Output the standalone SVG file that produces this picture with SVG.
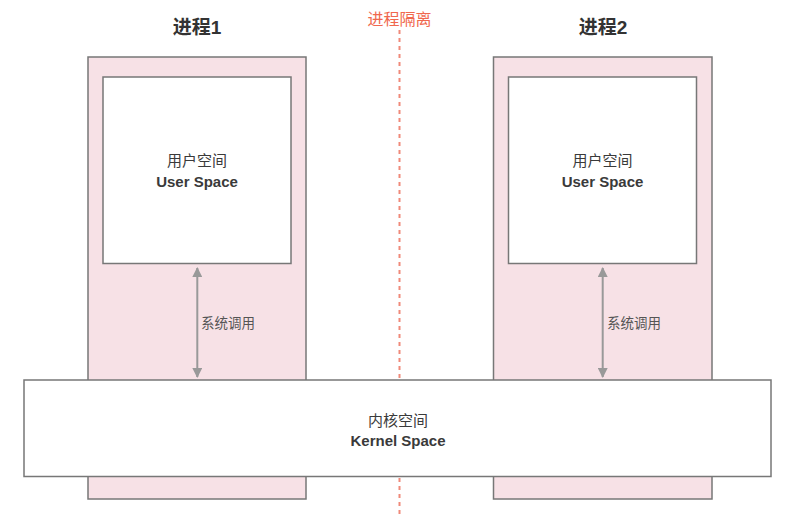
<svg xmlns="http://www.w3.org/2000/svg" width="800" height="521" viewBox="0 0 800 521">
<style>
  .outer { fill: #F7E1E6; stroke: #777777; stroke-width: 1.5; }
  .box { fill: #FFFFFF; stroke: #777777; stroke-width: 1.5; }
  .t { font-family: "Liberation Sans", "Noto Sans CJK SC", sans-serif; fill: #3a3a3a; text-anchor: middle; font-size: 15px; }
  .b { font-weight: bold; }
  .title { font-family: "Liberation Sans", "Noto Sans CJK SC", sans-serif; fill: #333333; text-anchor: middle; font-size: 19px; font-weight: bold; }
  .iso { font-family: "Liberation Sans", "Noto Sans CJK SC", sans-serif; fill: #F0684E; text-anchor: middle; font-size: 16px; }
  .arrow { stroke: #999999; stroke-width: 2; fill: none; marker-start: url(#ah); marker-end: url(#ah); }
  .lbl { font-family: "Liberation Sans", "Noto Sans CJK SC", sans-serif; fill: #555555; font-size: 13.5px; }
</style>
<defs>
  <marker id="ah" viewBox="0 0 10 10" refX="9" refY="5" markerWidth="5" markerHeight="5" orient="auto-start-reverse" markerUnits="strokeWidth">
    <path d="M0,0 L10,5 L0,10 z" fill="#999999"/>
  </marker>
</defs>
<rect width="800" height="521" fill="#FFFFFF"/>

<g id="isolation-line">
  <line x1="399.5" y1="30" x2="399.5" y2="517" stroke="#F08A7A" stroke-width="2" stroke-dasharray="4 4"/>
  <text class="iso" x="399.5" y="25">进程隔离</text>
</g>

<g id="process1">
  <text class="title" x="197" y="33.5">进程1</text>
  <rect class="outer" x="88" y="57" width="218" height="442"/>
</g>
<g id="process2">
  <text class="title" x="603" y="33.5">进程2</text>
  <rect class="outer" x="493.5" y="57" width="218.5" height="442"/>
</g>

<g id="user-space-1">
  <rect class="box" x="103" y="77" width="188" height="186.5"/>
  <text class="t" x="197" y="166">用户空间</text>
  <text class="t b" x="197" y="186.5">User Space</text>
</g>
<g id="user-space-2">
  <rect class="box" x="508.5" y="77" width="188" height="186.5"/>
  <text class="t" x="602.5" y="166">用户空间</text>
  <text class="t b" x="602.5" y="186.5">User Space</text>
</g>

<g id="kernel-space">
  <rect class="box" x="24" y="380" width="747" height="96.5"/>
  <text class="t" x="398" y="425.5">内核空间</text>
  <text class="t b" x="398" y="445.5">Kernel Space</text>
</g>

<g id="connectors">
  <line class="arrow" x1="197.3" y1="268" x2="197.3" y2="377"/>
  <text class="lbl" x="201" y="327.5">系统调用</text>
  <line class="arrow" x1="602.7" y1="268" x2="602.7" y2="377"/>
  <text class="lbl" x="607" y="327.5">系统调用</text>
</g>
</svg>
